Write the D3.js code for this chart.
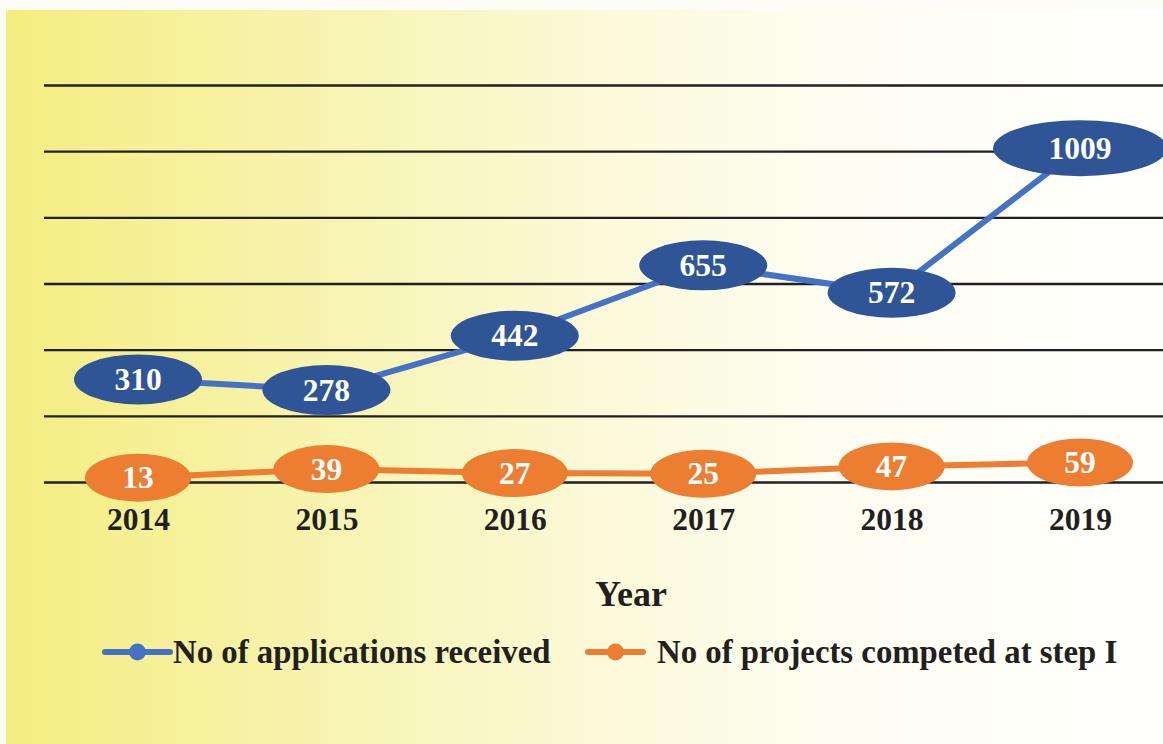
<!DOCTYPE html>
<html>
<head>
<meta charset="utf-8">
<script src="https://cdn.jsdelivr.net/npm/d3@7"></script>
<style>
  html, body { margin: 0; padding: 0; background: #fdfcf6; }
  svg { display: block; }
  text { font-family: "Liberation Serif", "Times New Roman", serif; font-weight: bold; }
</style>
</head>
<body>
<svg id="chart" width="1163" height="744"></svg>
<script>
// Chart data
const years = ["2014", "2015", "2016", "2017", "2018", "2019"];
const applications = [310, 278, 442, 655, 572, 1009];
const projects = [13, 39, 27, 25, 47, 59];
const yTicks = [0, 200, 400, 600, 800, 1000, 1200];
const seriesNames = ["No of applications received", "No of projects competed at step I"];
const axisTitle = "Year";

const W = 1163, H = 744;
const svg = d3.select("#chart");

// Background panel with a yellow-to-white horizontal gradient
const defs = svg.append("defs");
const grad = defs.append("linearGradient").attr("id", "bg").attr("x1", "0%").attr("x2", "100%");
grad.append("stop").attr("offset", "0%").attr("stop-color", "#f4ed80");
grad.append("stop").attr("offset", "25%").attr("stop-color", "#f7f3ac");
grad.append("stop").attr("offset", "50%").attr("stop-color", "#fbf9d6");
grad.append("stop").attr("offset", "70%").attr("stop-color", "#fefdf1");
grad.append("stop").attr("offset", "100%").attr("stop-color", "#fffffd");
svg.append("rect").attr("x", 6).attr("y", 10).attr("width", W - 6).attr("height", H - 10)
  .attr("fill", "url(#bg)");

// Scales
const x = d3.scalePoint().domain(years).range([138, 1080]);
const y = d3.scaleLinear().domain([0, 1200]).range([482, 85]);

// Horizontal gridlines
svg.append("g")
  .attr("transform", "translate(44,0)")
  .call(d3.axisLeft(y).tickValues(yTicks).tickSize(-(W - 44)).tickFormat(""))
  .call(g => g.select(".domain").remove())
  .call(g => g.selectAll(".tick line").attr("stroke", "#231f20").attr("stroke-width", 2.4));

// Category labels along the bottom
svg.append("g")
  .attr("transform", "translate(0,482)")
  .call(d3.axisBottom(x).tickSize(0).tickPadding(0))
  .call(g => g.select(".domain").remove())
  .call(g => g.selectAll(".tick text")
    .attr("y", 48).attr("dy", null)
    .attr("fill", "#231f20")
    .style("font-size", "31.5px")
    .style("font-family", "'Liberation Serif', serif").style("font-weight", "bold"));

// Axis title
svg.append("text").attr("x", 631).attr("y", 606).attr("text-anchor", "middle")
  .attr("fill", "#231f20").style("font-size", "36px").text(axisTitle);

// Series lines and value bubbles
const series = [
  { values: applications, line: "#4472c4", fill: "#2f5597", ry: v => String(v).length > 3 ? 28 : 25 },
  { values: projects, line: "#ed7d31", fill: "#ed7d31", ry: () => 24 }
];
const rxByDigits = { 2: 53, 3: 64, 4: 87 };

series.forEach(s => {
  const pts = years.map((yr, i) => [x(yr), y(s.values[i])]);
  svg.append("path")
    .attr("d", d3.line()(pts))
    .attr("fill", "none").attr("stroke", s.line).attr("stroke-width", 6)
    .attr("stroke-linejoin", "round");
});

series.forEach(s => {
  const g = svg.append("g");
  years.forEach((yr, i) => {
    const v = s.values[i];
    const cx = x(yr), cy = y(v);
    g.append("ellipse").attr("cx", cx).attr("cy", cy)
      .attr("rx", rxByDigits[String(v).length]).attr("ry", s.ry(v))
      .attr("fill", s.fill);
    g.append("text").attr("x", cx).attr("y", cy).attr("dy", "0.34em")
      .attr("text-anchor", "middle").attr("fill", "#ffffff")
      .style("font-size", "31.5px").text(v);
  });
});

// Legend
const legendItems = [
  { name: seriesNames[0], color: "#4472c4", x0: 105, x1: 170, tx: 173 },
  { name: seriesNames[1], color: "#ed7d31", x0: 588, x1: 643, tx: 657 }
];
const ly = 652;
legendItems.forEach(it => {
  const g = svg.append("g");
  g.append("line").attr("x1", it.x0).attr("x2", it.x1).attr("y1", ly).attr("y2", ly)
    .attr("stroke", it.color).attr("stroke-width", 6).attr("stroke-linecap", "round");
  g.append("circle").attr("cx", (it.x0 + it.x1) / 2).attr("cy", ly).attr("r", 8.5).attr("fill", it.color);
  g.append("text").attr("x", it.tx).attr("y", ly + 11).attr("fill", "#231f20")
    .style("font-size", "32.8px").text(it.name);
});
</script>
</body>
</html>
